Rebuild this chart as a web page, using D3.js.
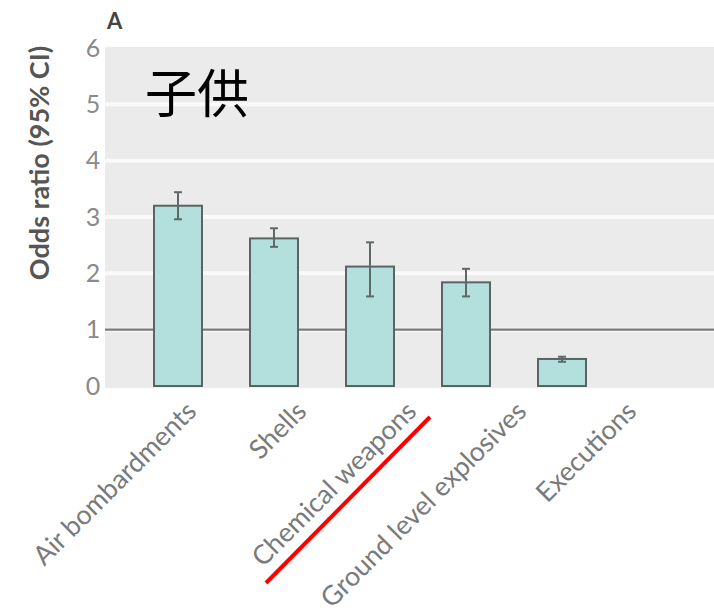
<!DOCTYPE html>
<html><head><meta charset="utf-8">
<script src="https://cdn.jsdelivr.net/npm/d3@7"></script>
<style>body{margin:0;background:#fff}svg{display:block}</style>
</head><body>
<svg id="c" width="714" height="616"></svg>
<script>
const categories = ["Air bombardments","Shells","Chemical weapons","Ground level explosives","Executions"];
const oddsRatio = [3.20, 2.62, 2.12, 1.84, 0.48];
const ciLower  = [2.96, 2.47, 1.59, 1.59, 0.43];
const ciUpper  = [3.44, 2.80, 2.55, 2.08, 0.52];
const yTicks = [0,1,2,3,4,5,6];
const yTitle = "Odds ratio (95% CI)";
const panelLabel = "A";
const overlayText = "子供";
const refValue = 1;

const svg = d3.select("#c");
const font = "Lato, 'Open Sans', sans-serif";

const x = d3.scaleBand().domain(categories).range([130,610]).paddingInner(0.5).paddingOuter(0.25);
const xLab = d3.scalePoint().domain(categories).range([198,638]);
const y = d3.scaleLinear().domain([0,6]).range([386,48]);

// background
svg.append("rect").attr("x",105).attr("y",y(6)-1).attr("width",714-105).attr("height",y(0)-y(6)+3).attr("fill","#ebebeb");
// gridlines
svg.append("g").selectAll("line").data(yTicks.filter(d=>d>0 && d<6)).join("line")
  .attr("x1",105).attr("x2",714).attr("y1",d=>y(d)).attr("y2",d=>y(d))
  .attr("stroke","#fafafa").attr("stroke-width",4);
// reference line
svg.append("line").attr("x1",105).attr("x2",714).attr("y1",y(refValue)).attr("y2",y(refValue))
  .attr("stroke","#7a7a7a").attr("stroke-width",2.2);

// y axis
const yAxis = d3.axisLeft(y).tickValues(yTicks).tickFormat(d3.format("d")).tickSize(0).tickPadding(0);
const ga = svg.append("g").attr("transform","translate(93,0)").call(yAxis);
ga.select(".domain").remove();
ga.selectAll("text").attr("font-family",font).attr("font-size",25).attr("fill","#8a8a8a")
  .attr("text-anchor","middle").attr("x",0);

// bars
const data = categories.map((c,i)=>({c,v:oddsRatio[i],lo:ciLower[i],hi:ciUpper[i]}));
svg.append("g").selectAll("rect").data(data).join("rect")
  .attr("x",d=>x(d.c)).attr("width",x.bandwidth())
  .attr("y",d=>y(d.v)).attr("height",d=>y(0)-y(d.v))
  .attr("fill","#b3e0dc").attr("stroke","#5a6462").attr("stroke-width",2);

// error bars
const eb = svg.append("g").attr("stroke","#5e6a6a").attr("stroke-width",2);
data.forEach(d=>{
  const cx = x(d.c)+x.bandwidth()/2;
  eb.append("line").attr("x1",cx).attr("x2",cx).attr("y1",y(d.hi)).attr("y2",y(d.lo));
  eb.append("line").attr("x1",cx-4).attr("x2",cx+4).attr("y1",y(d.hi)).attr("y2",y(d.hi));
  eb.append("line").attr("x1",cx-4).attr("x2",cx+4).attr("y1",y(d.lo)).attr("y2",y(d.lo));
});

// x labels
svg.append("g").selectAll("text").data(categories).join("text")
  .attr("transform",d=>`translate(${xLab(d)},${413}) rotate(-45)`)
  .attr("text-anchor","end").attr("font-family",font).attr("font-size",26.8).attr("fill","#7a7a7a")
  .text(d=>d);

// y title
svg.append("text").attr("transform","translate(49,163) rotate(-90)").attr("text-anchor","middle")
  .attr("font-family",font).attr("font-weight","bold").attr("font-size",27).attr("fill","#555")
  .text(yTitle);

// panel label
svg.append("text").attr("x",107).attr("y",29).attr("font-family",font).attr("font-weight","bold")
  .attr("font-size",22).attr("fill","#444").text(panelLabel);

// overlay text
svg.append("text").attr("x",145).attr("y",113).attr("font-family","'Noto Sans CJK JP', sans-serif")
  .attr("font-size",52).attr("fill","#000").text(overlayText);

// red underline annotation
const li = categories.indexOf("Chemical weapons");
svg.append("line").attr("x1",xLab(categories[li])-152).attr("y1",583).attr("x2",xLab(categories[li])+12).attr("y2",417)
  .attr("stroke","#ff0000").attr("stroke-width",4);
</script>
</body></html>
